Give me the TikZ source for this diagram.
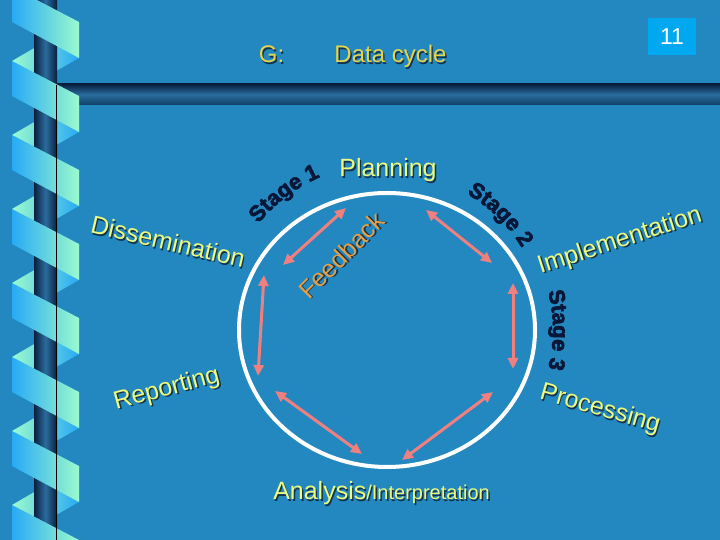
\documentclass[tikz,border=0pt]{standalone}
\usepackage{fontspec}
\setmainfont{Liberation Sans}
\newfontfamily\stagefont[FakeBold=3]{Liberation Sans Bold}
\usetikzlibrary{arrows.meta,decorations.text}
\definecolor{slide}{RGB}{35,136,192}
\definecolor{navy}{RGB}{8,32,62}
\definecolor{barmid}{RGB}{42,108,158}
\definecolor{ribblue}{RGB}{40,170,245}
\definecolor{ribgreen}{RGB}{155,250,205}
\definecolor{gold}{RGB}{230,212,74}
\definecolor{paleyellow}{RGB}{236,250,125}
\definecolor{stageblue}{RGB}{8,22,55}
\definecolor{orange}{RGB}{228,160,72}
\definecolor{numbox}{RGB}{0,168,240}
\definecolor{salmon}{RGB}{240,128,128}
\definecolor{shade}{RGB}{20,50,75}
\newcommand{\shtext}[1]{\rlap{\kern1.4pt\raisebox{-1.4pt}{\textcolor{shade}{#1}}}#1}
\tikzset{
  phase/.style={text=paleyellow,inner sep=0pt,font=\fontsize{25}{28}\selectfont},
  cyclearrow/.style={salmon,line width=3pt,{Triangle[length=11pt,width=10pt]}-{Triangle[length=11pt,width=10pt]}},
  stagetext/.style={decorate,decoration={text along path,text align=center,text color=stageblue,
    text={|\stagefont\fontsize{22}{24}\selectfont|#1}}}
}

\begin{document}
\begin{tikzpicture}[x=1pt,y=1pt]
  \useasboundingbox (0,0) rectangle (720,540);
  \clip (0,0) rectangle (720,540);
  \fill[slide] (0,0) rectangle (720,540);
  \shade[top color=navy,bottom color=navy!70!slide,middle color=barmid] (57,435) rectangle (720,456);
  \begin{scope}[shift={(0,540)},y=-1pt]
    \foreach \a in {-13,61,...,505}{
      \shade[left color=ribgreen,right color=ribblue] (79,\a+35)--(12,\a+74)--(12,\a+109)--(79,\a+71)--cycle;}
    \shade[left color=navy,right color=navy,middle color=barmid] (34,0) rectangle (57,540);
    \foreach \a in {-13,61,...,505}{
      \shade[left color=ribblue,right color=ribgreen] (12,\a)--(79,\a+35)--(79,\a+71)--(12,\a+35)--cycle;}
    \draw[black,line width=0.7pt] (56,85)--(56,540);
  \end{scope}

  \node[fill=numbox,minimum width=48pt,minimum height=37pt,inner sep=0pt,text=white,
    font=\fontsize{23}{25}\selectfont] (pagenum) at (672,503.5) {11};
  \node[text=gold,font=\fontsize{24}{26}\selectfont,anchor=base] (gtag) at (271.5,477) {\shtext{G:}};
  \node[text=gold,font=\fontsize{24}{26}\selectfont,anchor=base] (title) at (390.5,477) {\shtext{Data cycle}};

  \draw[white,line width=4pt] (387,210) ellipse[x radius=148,y radius=137];

  \path[stagetext={Stage 1}] (387,210) ++(145:167 and 167) arc[start angle=145,end angle=109,x radius=167,y radius=167];
  \path[stagetext={Stage 2}] (387,210) ++(64:158 and 158) arc[start angle=64,end angle=27,x radius=158,y radius=158];
  \path[stagetext={Stage 3}] (387,210) ++(18:166 and 160) arc[start angle=18,end angle=-18,x radius=166,y radius=160];

  \node[phase,anchor=base] (planning) at (388,363) {\shtext{Planning}};
  \node[phase,rotate=-13] (dissem) at (168,298) {\shtext{Dissemination}};
  \node[phase,rotate=18] (implement) at (620,298) {\shtext{Implementation}};
  \node[phase,rotate=15] (reporting) at (167,150) {\shtext{Reporting}};
  \node[phase,rotate=-16] (processing) at (600,130) {\shtext{Processing}};
  \node[phase,anchor=base] (analysis) at (381.5,40)
    {\shtext{Analysis}{\fontsize{20}{24}\selectfont\shtext{/Interpretation}}};
  \node[text=orange,inner sep=0pt,font=\fontsize{25}{27}\selectfont,rotate=45] (feedback) at (342,284) {\shtext{Feedback}};

  \coordinate (tl1) at (346,332); \coordinate (tl2) at (283,275);
  \coordinate (tr1) at (426,330); \coordinate (tr2) at (492,277);
  \coordinate (r1) at (513,257);  \coordinate (r2) at (513,171);
  \coordinate (br1) at (493,148); \coordinate (br2) at (402,80);
  \coordinate (bl1) at (275,149); \coordinate (bl2) at (362,86);
  \coordinate (l1) at (264,265);  \coordinate (l2) at (258,164);
  \foreach \s/\e in {tl1/tl2,tr1/tr2,r1/r2,br1/br2,bl1/bl2,l1/l2}
    \draw[cyclearrow] (\s)--(\e);
\end{tikzpicture}
\end{document}
